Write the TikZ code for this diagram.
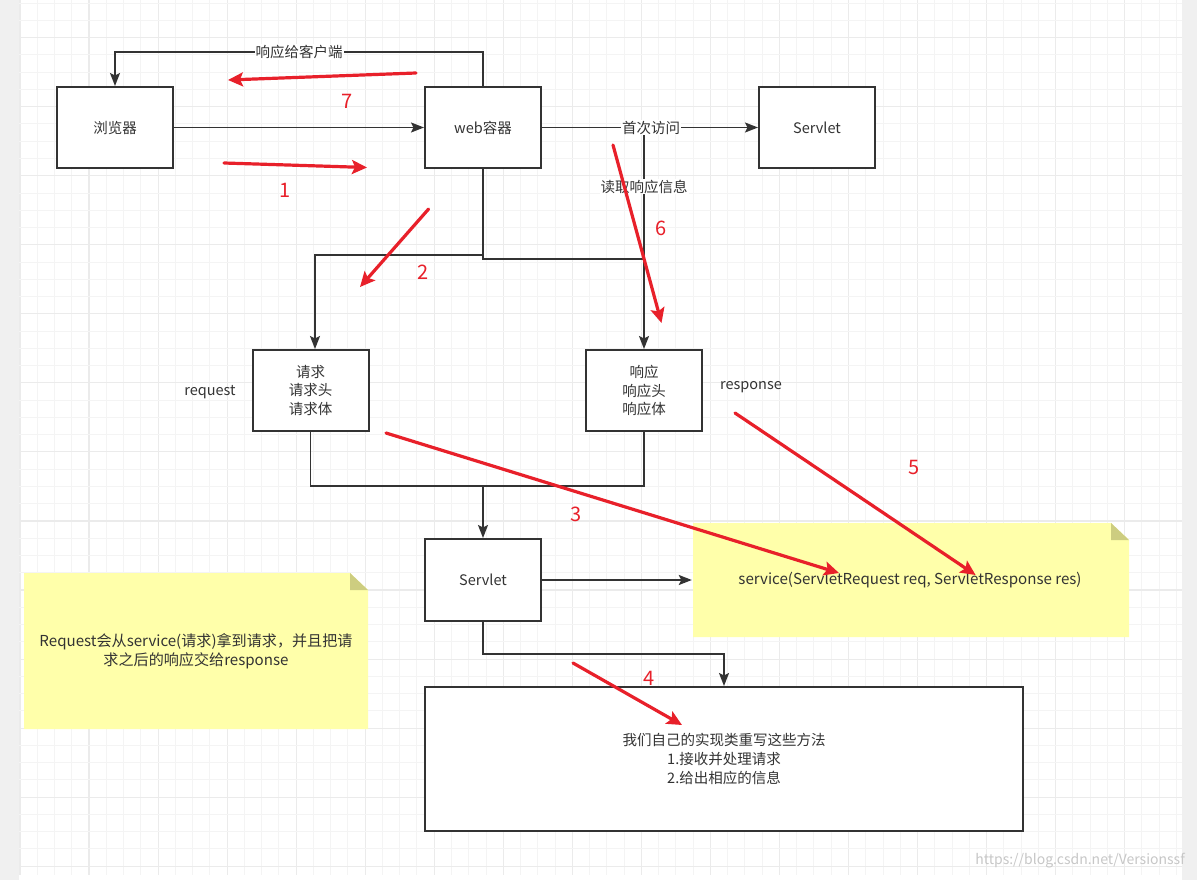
\documentclass[tikz,border=0pt]{standalone}
\usepackage{fontspec}
\setmainfont{Noto Sans CJK SC}
\usetikzlibrary{arrows.meta}
\definecolor{ink}{HTML}{333333}
\definecolor{redann}{HTML}{E8202A}
\definecolor{noteY}{HTML}{FFFFAA}
\definecolor{noteF}{HTML}{CDCD80}
\definecolor{gridminor}{HTML}{F4F4F4}
\definecolor{gridmajor}{HTML}{EBEBEB}
\definecolor{strip}{HTML}{F0F0F0}
\newcommand\txtfont{\fontsize{14.5}{18.8}\selectfont}
\newcommand\notefont{\fontsize{15.1}{19}\selectfont}
\newcommand\numfont{\fontsize{20}{20}\selectfont}
\begin{document}
\begin{tikzpicture}[x=1pt,y=-1pt,
  box/.style={draw=ink, line width=2pt, fill=white, minimum width=116pt, minimum height=81pt, inner sep=0pt, text=ink, font=\txtfont, align=center},
  plain/.style={text=ink, font=\txtfont, align=center, inner sep=1pt},
  lbl/.style={fill=white, text=ink, font=\txtfont, inner sep=1pt},
  line/.style={draw=ink, line width=1.8pt},
  conn/.style={line, -{Stealth[length=13pt,width=10pt,inset=2.5pt]}},
  redarrow/.style={draw=redann, line width=3.2pt, line cap=round, -{Stealth[length=15pt,width=14pt,inset=3pt]}},
  num/.style={text=redann, font=\numfont, inner sep=0pt}
]
\useasboundingbox (0,0) rectangle (1197,880);
% background
\fill[white] (0,0) rectangle (1197,880);
\fill[strip] (0,0) rectangle (19,880);
\fill[strip] (1182,0) rectangle (1197,880);
% grid
\foreach \i in {0,...,67}{
  \pgfmathsetmacro\xx{20+\i*17.26}
  \pgfmathtruncatemacro\m{mod(\i,4)}
  \ifnum\m=0 \draw[gridmajor, line width=1.1pt] (\xx,0) -- (\xx,875);
  \else \draw[gridminor, line width=1pt] (\xx,0) -- (\xx,875); \fi
}
\foreach \j in {-2,...,48}{
  \pgfmathsetmacro\yy{37.7+\j*17.26}
  \pgfmathtruncatemacro\m{mod(\j,4)}
  \ifnum\m=0 \draw[gridmajor, line width=1.1pt] (19,\yy) -- (1182,\yy);
  \else \draw[gridminor, line width=1pt] (19,\yy) -- (1182,\yy); \fi
}
% notes
\fill[noteY] (693,523) -- (1111,523) -- (1129,540) -- (1129,637) -- (693,637) -- cycle;
\fill[noteF] (1111,523) -- (1111,540) -- (1129,540) -- cycle;
\node[plain, font=\notefont, minimum width=436pt, minimum height=114pt] (note1) at (910,580) {service(ServletRequest req, ServletResponse res)};
\fill[noteY] (24,573) -- (350,573) -- (368,590) -- (368,729) -- (24,729) -- cycle;
\fill[noteF] (350,573) -- (350,590) -- (368,590) -- cycle;
\node[plain, font=\notefont, minimum width=344pt, minimum height=156pt] (note2) at (196,651) {Request会从service(请求)拿到请求，并且把请\\求之后的响应交给response};
% boxes
\node[box] (browser) at (115,127.5) {浏览器};
\node[box] (web) at (483,127.5) {web容器};
\node[box] (servlet1) at (817,127.5) {Servlet};
\node[box] (req) at (310.5,390.5) {请求\\请求头\\请求体};
\node[box] (resp) at (644,390.5) {响应\\响应头\\响应体};
\node[box, minimum height=82pt] (servlet2) at (483,580) {Servlet};
\node[box, minimum width=598pt, minimum height=144pt] (big) at (724,759) {我们自己的实现类重写这些方法\\1.接收并处理请求\\2.给出相应的信息};
\node[plain] (reqlbl) at (210,392) {request};
\node[plain] (resplbl) at (751,387) {response};
% connector coordinates
\coordinate (t1) at (483,52);
\coordinate (t2) at (115,52);
\coordinate (j1) at (644,127.5);
\coordinate (j2) at (644,259);
\coordinate (a1) at (483,255);
\coordinate (a2) at (315,255);
\coordinate (b1) at (483,259);
\coordinate (c1) at (310.5,486);
\coordinate (c2) at (644,486);
\coordinate (m) at (483,486);
\coordinate (d1) at (483,654);
\coordinate (d2) at (724,654);
% connectors
\draw[conn] (browser.east) -- (web.west);
\draw[conn] (web.north) -- (t1) -- node[lbl]{响应给客户端} (t2) -- (browser.north);
\draw[line] (j1) -- node[lbl, pos=0.45]{读取响应信息} (j2);
\draw[conn] (web.east) -- node[lbl, pos=0.505]{首次访问} (servlet1.west);
\draw[conn] (web.south) -- (a1) -- (a2) -- ([xshift=4.5pt]req.north);
\draw[conn] (web.south) -- (b1) -- (j2) -- (resp.north);
\draw[line] (req.south) -- (c1) -- (c2) -- (resp.south);
\draw[conn] (m) -- (servlet2.north);
\draw[conn] (servlet2.east) -- (note1.west);
\draw[conn] (servlet2.south) -- (d1) -- (d2) -- (big.north);
% red annotation arrows
\coordinate (r7s) at (416,73);   \coordinate (r7e) at (228,80);
\coordinate (r1s) at (224,163);  \coordinate (r1e) at (367,167.5);
\coordinate (r2s) at (428.6,209);\coordinate (r2e) at (360,287);
\coordinate (r6s) at (613,145);  \coordinate (r6e) at (661.5,323);
\coordinate (r3s) at (386,433);  \coordinate (r3e) at (839,573);
\coordinate (r5s) at (735,413);  \coordinate (r5e) at (975.6,575);
\coordinate (r4s) at (573,663);  \coordinate (r4e) at (682,725);
\draw[redarrow] (r7s) -- (r7e);
\draw[redarrow] (r1s) -- (r1e);
\draw[redarrow] (r2s) -- (r2e);
\draw[redarrow] (r6s) -- (r6e);
\draw[redarrow] (r3s) -- (r3e);
\draw[redarrow] (r5s) -- (r5e);
\draw[redarrow] (r4s) -- (r4e);
\node[num] (n7) at (347,101) {7};
\node[num] (n1) at (285.5,190.5) {1};
\node[num] (n2) at (423,272) {2};
\node[num] (n6) at (661,228) {6};
\node[num] (n3) at (576,514) {3};
\node[num] (n5) at (913.6,467) {5};
\node[num] (n4) at (649,678) {4};
% watermark
\node[anchor=east, text=black!22, font=\fontsize{14}{14}\selectfont, inner sep=0pt] (wm) at (1185,861) {https://blog.csdn.net/Versionssf};
\end{tikzpicture}
\end{document}
